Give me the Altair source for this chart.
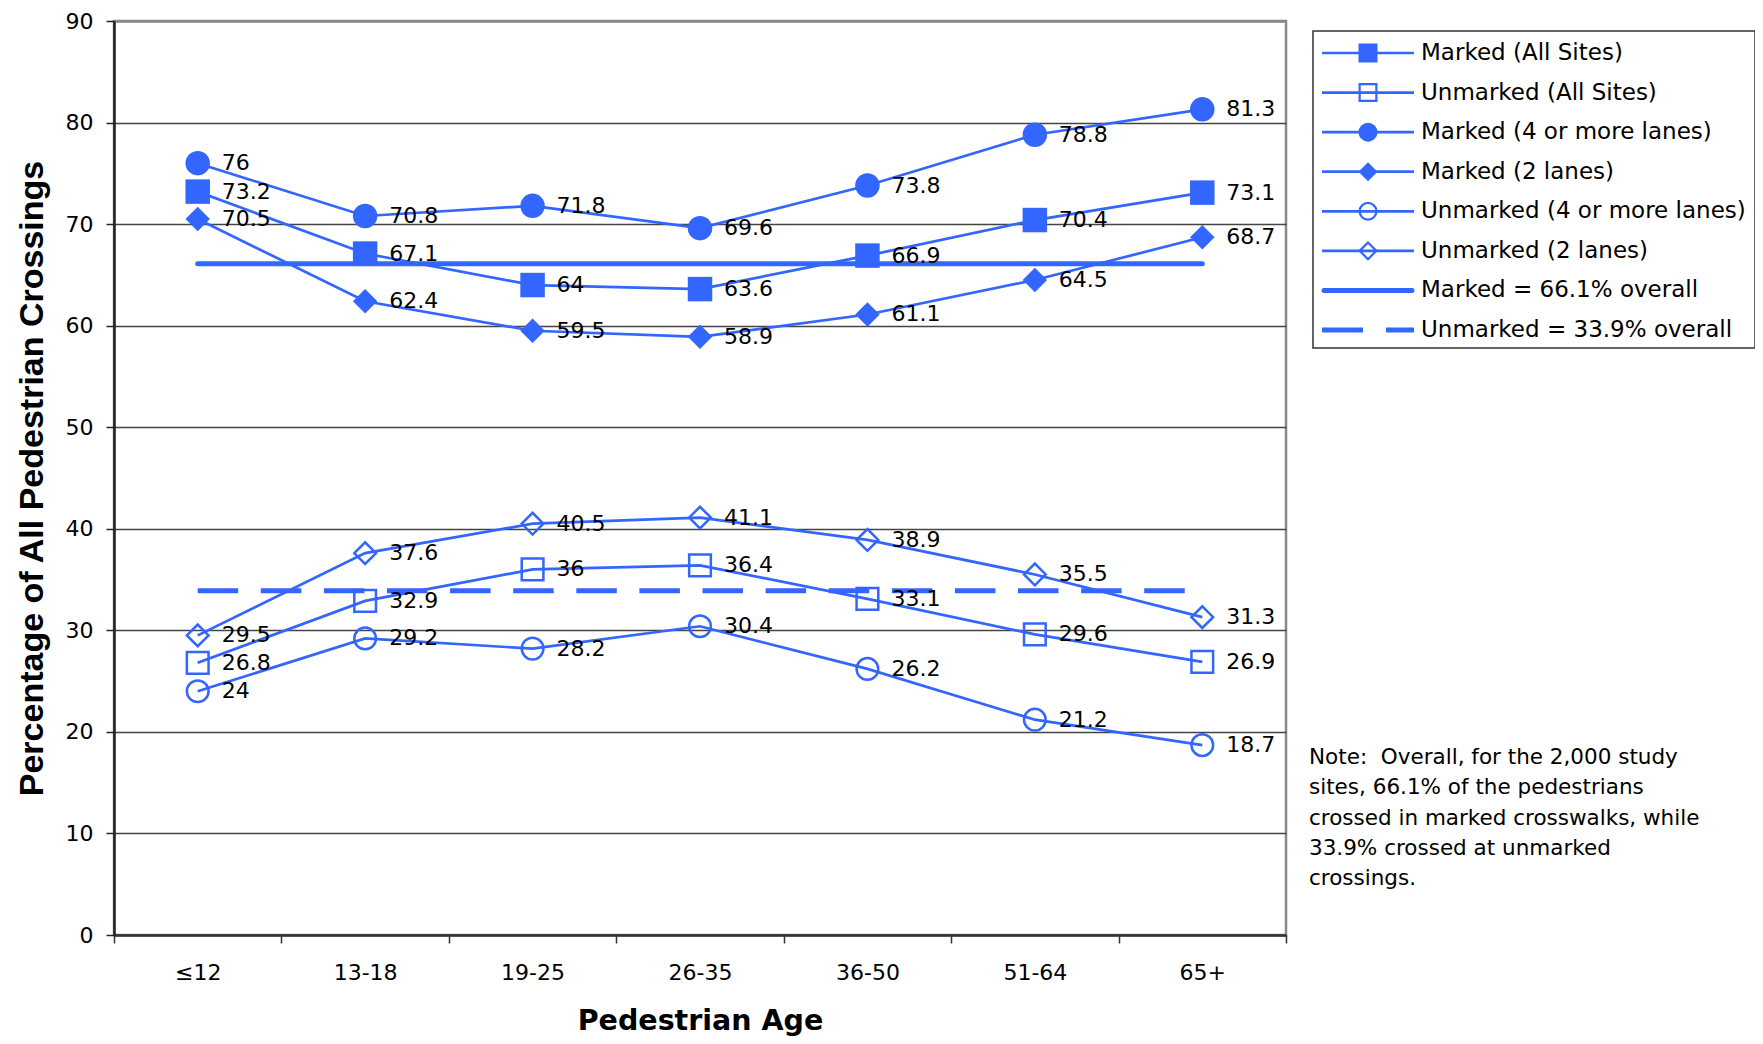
import altair as alt
import pandas as pd

# ---------------- data ----------------
ages = ["≤12", "13-18", "19-25", "26-35", "36-50", "51-64", "65+"]
series_names = [
    "Marked (All Sites)",
    "Unmarked (All Sites)",
    "Marked (4 or more lanes)",
    "Marked (2 lanes)",
    "Unmarked (4 or more lanes)",
    "Unmarked (2 lanes)",
]
marked_all = [73.2, 67.1, 64, 63.6, 66.9, 70.4, 73.1]
unmarked_all = [26.8, 32.9, 36, 36.4, 33.1, 29.6, 26.9]
marked_4 = [76, 70.8, 71.8, 69.6, 73.8, 78.8, 81.3]
marked_2 = [70.5, 62.4, 59.5, 58.9, 61.1, 64.5, 68.7]
unmarked_4 = [24, 29.2, 28.2, 30.4, 26.2, 21.2, 18.7]
unmarked_2 = [29.5, 37.6, 40.5, 41.1, 38.9, 35.5, 31.3]
overall_names = ["Marked = 66.1% overall", "Unmarked = 33.9% overall"]
overall_values = [66.1, 33.9]
note_lines = [
    "Note:\u00a0 Overall, for the 2,000 study",
    "sites, 66.1% of the pedestrians",
    "crossed in marked crosswalks, while",
    "33.9% crossed at unmarked",
    "crossings.",
]

# ---------------- tables ----------------
all_series = [marked_all, unmarked_all, marked_4, marked_2, unmarked_4, unmarked_2]
rows = []
for name, vals in zip(series_names, all_series):
    for a, v in zip(ages, vals):
        rows.append({"age": a, "series": name, "value": v, "label": f"{v:g}"})
df = pd.DataFrame(rows)

ov_rows = []
for name, v in zip(overall_names, overall_values):
    for a in (ages[0], ages[-1]):
        ov_rows.append({"age": a, "series": name, "value": v})
df_ov = pd.DataFrame(ov_rows)

legend_names = series_names + overall_names
df_leg = pd.DataFrame({"series": legend_names})
df_one = pd.DataFrame({"k": [0]})

filled_series = [s for s in series_names if s.startswith("Marked")]
open_series = [s for s in series_names if s.startswith("Unmarked")]

# ---------------- styles ----------------
BLUE = "#3366ff"
W, H = 1172, 914
FONT = "DejaVu Sans"

shape_scale = alt.Scale(
    domain=series_names,
    range=["square", "square", "circle", "diamond", "circle", "diamond"],
)

x_enc = alt.X(
    "age:O",
    sort=ages,
    scale=alt.Scale(type="band", domain=ages, paddingInner=0, paddingOuter=0),
    axis=alt.Axis(
        title="Pedestrian Age",
        tickBand="extent",
        grid=False,
        labelAngle=0,
        domainColor="#333",
        domainWidth=2.5,
        tickColor="#333",
        tickWidth=1.5,
        tickSize=8,
        labelFont=FONT,
        labelFontSize=22,
        labelColor="black",
        labelPadding=19,
        titleFont=FONT,
        titleFontSize=28.5,
        titleFontWeight="bold",
        titleColor="black",
        titleY=94,
        titleBaseline="alphabetic",
    ),
)
y_enc = alt.Y(
    "value:Q",
    scale=alt.Scale(domain=[0, 90], nice=False, zero=True),
    axis=alt.Axis(
        title="Percentage of All Pedestrian Crossings",
        values=list(range(0, 91, 10)),
        grid=True,
        gridColor={"condition": {"test": "datum.value >= 90", "value": "#888888"}, "value": "#444444"},
        gridWidth={"condition": {"test": "datum.value >= 90", "value": 2.5}, "value": 1.5},
        domainColor="#222",
        domainWidth=2.5,
        tickColor="#222",
        tickWidth=1.5,
        tickSize=8,
        labelFont=FONT,
        labelFontSize=22,
        labelColor="black",
        labelPadding=13,
        titleFont="Liberation Sans",
        titleFontSize=34,
        titleFontWeight="bold",
        titleColor="black",
        titleX=-72,
        titleY=H / 2,
        titleAlign="center",
        titleBaseline="alphabetic",
    ),
)

# ---------------- main plot ----------------
base = alt.Chart(df)

ov_solid = alt.Chart(df_ov).transform_filter(
    alt.datum.series == overall_names[0]
).mark_line(color=BLUE, strokeWidth=5, strokeCap="round").encode(
    x=x_enc, y=y_enc, detail="series:N"
)
ov_dash = alt.Chart(df_ov).transform_filter(
    alt.datum.series == overall_names[1]
).mark_line(color=BLUE, strokeWidth=5, strokeDash=[40.5, 22.6]).encode(
    x=x_enc, y=y_enc, detail="series:N"
)

lines = base.mark_line(color=BLUE, strokeWidth=2.7).encode(
    x=x_enc, y=y_enc, detail="series:N"
)

pts_filled = base.transform_filter(
    alt.FieldOneOfPredicate(field="series", oneOf=filled_series)
).mark_point(filled=True, color=BLUE, size=600, opacity=1).encode(
    x=x_enc, y=y_enc,
    shape=alt.Shape("series:N", scale=shape_scale, legend=None),
)
pts_open = base.transform_filter(
    alt.FieldOneOfPredicate(field="series", oneOf=open_series)
).mark_point(filled=False, color=BLUE, strokeWidth=2.5, size=470, opacity=1).encode(
    x=x_enc, y=y_enc,
    shape=alt.Shape("series:N", scale=shape_scale, legend=None),
)

labels = base.mark_text(
    align="left", baseline="middle", dx=24, font=FONT, fontSize=22, color="black"
).encode(x=x_enc, y=y_enc, text="label:N")

note = alt.Chart(df_one).mark_text(
    align="left", baseline="alphabetic", font=FONT, fontSize=21.5,
    color="black", lineHeight=30.3,
).encode(x=alt.value(1195), y=alt.value(743), text=alt.value(note_lines))

main = alt.layer(ov_solid, ov_dash, lines, pts_filled, pts_open, labels, note)

# ---------------- legend ----------------
leg_y = alt.Y(
    "series:N",
    sort=legend_names,
    scale=alt.Scale(type="point", domain=legend_names, range=[32, 309], padding=0),
    axis=None,
)
leg_base = alt.Chart(df_leg)

leg_box = alt.Chart(df_one).mark_rect(
    fill="white", stroke="#333", strokeWidth=1.5
).encode(x=alt.value(1199), x2=alt.value(1641), y=alt.value(10), y2=alt.value(327))

leg_seg = leg_base.transform_filter(
    alt.FieldOneOfPredicate(field="series", oneOf=series_names)
).mark_rule(color=BLUE, strokeWidth=2.7).encode(
    x=alt.value(1208), x2=alt.value(1300), y=leg_y
)
leg_solid = leg_base.transform_filter(
    alt.datum.series == overall_names[0]
).mark_rule(color=BLUE, strokeWidth=5, strokeCap="round").encode(
    x=alt.value(1210), x2=alt.value(1298), y=leg_y
)
leg_dash = leg_base.transform_filter(
    alt.datum.series == overall_names[1]
).mark_rule(color=BLUE, strokeWidth=5, strokeDash=[41, 23]).encode(
    x=alt.value(1208), x2=alt.value(1300), y=leg_y
)
leg_filled = leg_base.transform_filter(
    alt.FieldOneOfPredicate(field="series", oneOf=filled_series)
).mark_point(filled=True, color=BLUE, size=361, opacity=1).encode(
    x=alt.value(1254), y=leg_y,
    shape=alt.Shape("series:N", scale=shape_scale, legend=None),
)
leg_open = leg_base.transform_filter(
    alt.FieldOneOfPredicate(field="series", oneOf=open_series)
).mark_point(filled=False, color=BLUE, strokeWidth=2.2, size=280, opacity=1).encode(
    x=alt.value(1254), y=leg_y,
    shape=alt.Shape("series:N", scale=shape_scale, legend=None),
)
leg_text = leg_base.mark_text(
    align="left", baseline="middle", font=FONT, fontSize=23, color="black"
).encode(x=alt.value(1307), y=leg_y, text="series:N")

legend = alt.layer(leg_box, leg_seg, leg_solid, leg_dash, leg_filled, leg_open, leg_text)

chart = alt.layer(main, legend).resolve_scale(y="independent").properties(
    width=W,
    height=H,
    autosize=alt.AutoSizeParams(type="none"),
    padding={"left": 106, "top": 13, "right": 1747 - 106 - W, "bottom": 1028 - 13 - H},
    background="white",
).configure_view(stroke="#888888", strokeWidth=2.5)

chart.save("out.html", embed_options={"renderer": "svg", "actions": False})
